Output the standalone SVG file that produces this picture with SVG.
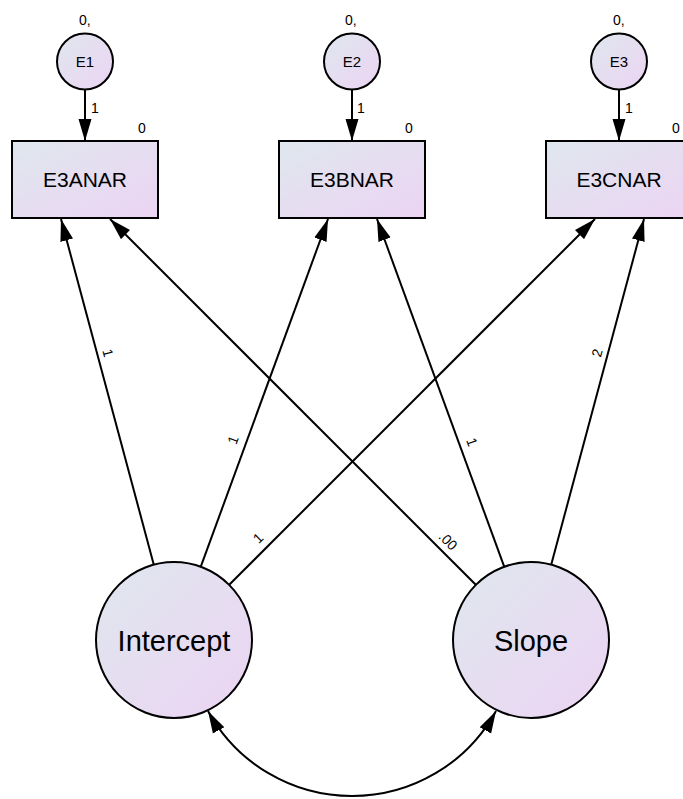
<svg xmlns="http://www.w3.org/2000/svg" width="683" height="799" viewBox="0 0 683 799">
<style>
text{font-family:"Liberation Sans",Arial,sans-serif;fill:#000}
.shape{fill:url(#g);stroke:#000;stroke-width:2}
.c{stroke:#000;stroke-width:2;fill:none}
.big{font-size:29px;text-anchor:middle}
.obs{font-size:21px;text-anchor:middle}
.err{font-size:15px;text-anchor:middle}
.lab{font-size:14px}
.pl{font-size:14px;text-anchor:middle}
</style>
<defs>
<linearGradient id="g" x1="0" y1="0" x2="1" y2="1">
<stop offset="0" stop-color="#dfe7ee"/>
<stop offset="1" stop-color="#ecd4f3"/>
</linearGradient>
<marker id="a" markerUnits="userSpaceOnUse" markerWidth="24" markerHeight="14" refX="22" refY="6.5" orient="auto-start-reverse" viewBox="0 0 24 13">
<path d="M0,0 L22,6.5 L0,13 Z" fill="#000"/>
</marker>
</defs>
<g id="connectors">
<path class="c" d="M85,90 L85,141" marker-end="url(#a)"/>
<path class="c" d="M352,90 L352,141" marker-end="url(#a)"/>
<path class="c" d="M619,90 L619,141" marker-end="url(#a)"/>
<path class="c" d="M153.8,564.7 L61,219" marker-end="url(#a)"/>
<path class="c" d="M200.8,566.7 L328,219" marker-end="url(#a)"/>
<path class="c" d="M229.2,584.8 L595,219" marker-end="url(#a)"/>
<path class="c" d="M475.8,584.8 L110,219" marker-end="url(#a)"/>
<path class="c" d="M504.2,566.7 L377,219" marker-end="url(#a)"/>
<path class="c" d="M551.2,564.7 L644,219" marker-end="url(#a)"/>
<path class="c" d="M208,711 A164.4,164.4 0 0 0 496,711" marker-start="url(#a)" marker-end="url(#a)"/>
<text class="lab" x="91" y="113">1</text>
<text class="lab" x="357" y="113">1</text>
<text class="lab" x="625" y="113">1</text>
<text class="pl" transform="translate(108,353) rotate(75)" dy="0.35em">1</text>
<text class="pl" transform="translate(233,440) rotate(-70)" dy="0.35em">1</text>
<text class="pl" transform="translate(258,538) rotate(-45)" dy="0.35em">1</text>
<text class="pl" transform="translate(448,541) rotate(45)" dy="0.35em">.00</text>
<text class="pl" transform="translate(472,442) rotate(70)" dy="0.35em">1</text>
<text class="pl" transform="translate(597,353) rotate(-75)" dy="0.35em">2</text>
</g>
<g id="E1">
<circle class="shape" cx="85" cy="61.5" r="28"/>
<text class="err" x="85" y="67">E1</text>
<text class="lab" x="79" y="25">0,</text>
</g>
<g id="E2">
<circle class="shape" cx="352" cy="61.5" r="28"/>
<text class="err" x="352" y="67">E2</text>
<text class="lab" x="345" y="25">0,</text>
</g>
<g id="E3">
<circle class="shape" cx="619" cy="61.5" r="28"/>
<text class="err" x="619" y="67">E3</text>
<text class="lab" x="613" y="25">0,</text>
</g>
<g id="E3ANAR">
<rect class="shape" x="12" y="141" width="146" height="77"/>
<text class="obs" x="85" y="187">E3ANAR</text>
<text class="lab" x="138" y="133">0</text>
</g>
<g id="E3BNAR">
<rect class="shape" x="279" y="141" width="146" height="77"/>
<text class="obs" x="352" y="187">E3BNAR</text>
<text class="lab" x="405" y="133">0</text>
</g>
<g id="E3CNAR">
<rect class="shape" x="546" y="141" width="146" height="77"/>
<text class="obs" x="619" y="187">E3CNAR</text>
<text class="lab" x="672" y="133">0</text>
</g>
<g id="Intercept">
<circle class="shape" cx="174" cy="640" r="78"/>
<text class="big" x="174" y="651">Intercept</text>
</g>
<g id="Slope">
<circle class="shape" cx="531" cy="640" r="78"/>
<text class="big" x="531" y="651">Slope</text>
</g>
</svg>
